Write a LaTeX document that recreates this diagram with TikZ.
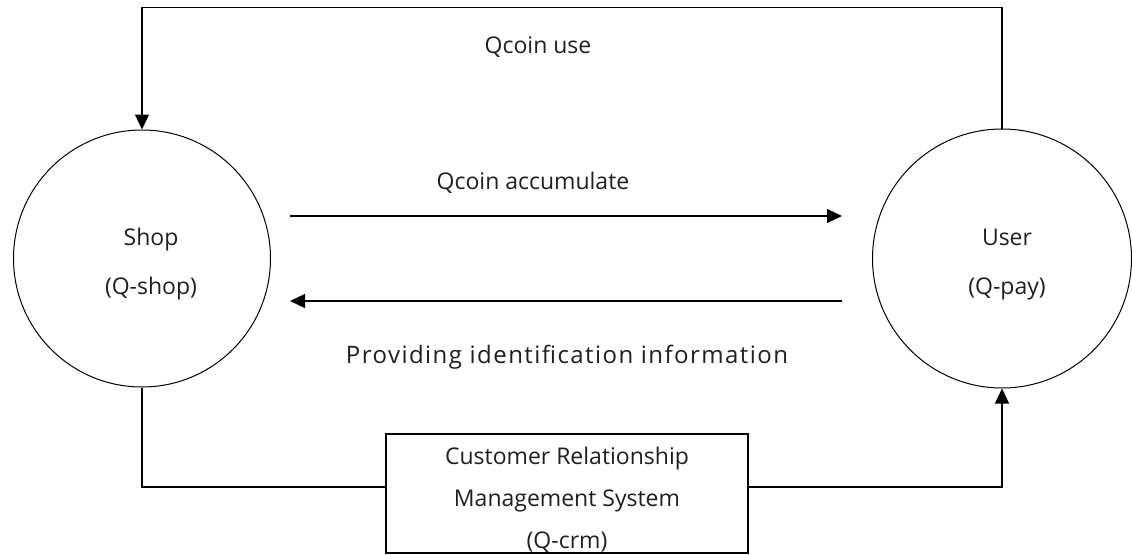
\documentclass[tikz,border=0pt]{standalone}
\usepackage{fontspec}
\setmainfont{Open Sans}
\newfontfamily\widefont[LetterSpace=6]{Open Sans}
\usepackage{tikz}
\usetikzlibrary{arrows.meta}

\begin{document}
\begin{tikzpicture}[x=1pt,y=-1pt]
\tikzstyle{party}=[circle,draw,line width=1pt,inner sep=0pt]
\tikzstyle{ptext}=[align=center,font=\fontsize{23}{49}\selectfont,text=black!88]
\tikzstyle{flow}=[-{Triangle[length=15pt,width=14pt]},line width=1.2pt]
\tikzstyle{plain}=[line width=1.2pt]
\tikzstyle{lbl}=[font=\fontsize{23}{28}\selectfont,text=black!88]
\useasboundingbox (0,0) rectangle (1132,554);
\node[party,minimum size=257pt] (shop) at (142,258.5) {};
\node[party,minimum size=259pt] (user) at (1002,258.5) {};
\node[ptext] (shoptext) at ([xshift=9pt,yshift=-6pt]shop.center) {Shop\\(Q-shop)};
\node[ptext] (usertext) at ([xshift=5pt,yshift=-6pt]user.center) {User\\(Q-pay)};
\node[draw,line width=1.2pt,minimum width=362pt,minimum height=119pt] (crm) at (567,493.5) {};
\node[lbl,align=center,font=\fontsize{23}{42}\selectfont] (crmtext) at (567,500) {Customer Relationship\\Management System\\(Q-crm)};
\node[lbl] (use) at (538,47) {Qcoin use};
\node[lbl] (acc) at (533,183) {Qcoin accumulate};
\node[lbl,font=\widefont\fontsize{24}{28}\selectfont] (prov) at (567,357) {Providing identification information};
%\draw[help lines] (0,0) grid[step=50] (1132,554);
\draw[flow] (user.north) -- ++(0,-121) -| (shop.north);
\draw[flow,shorten <=19pt,shorten >=30pt] (shop.east |- 0,216) -- (user.west |- 0,216);
\draw[flow,shorten <=30pt,shorten >=19pt] (user.west |- 0,301) -- (shop.east |- 0,301);
\draw[plain] (shop.south) |- ([yshift=6.5pt]crm.west);
\draw[flow] ([yshift=6.5pt]crm.east) -| (user.south);
\end{tikzpicture}
\end{document}
